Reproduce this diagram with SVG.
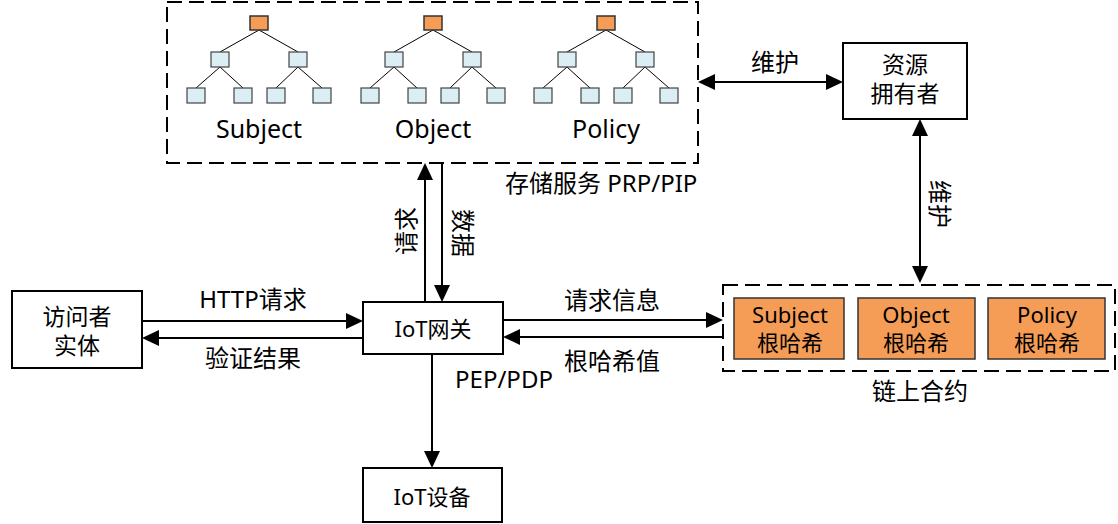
<svg xmlns="http://www.w3.org/2000/svg" xmlns:xlink="http://www.w3.org/1999/xlink" width="1118" height="524" viewBox="0 0 1118 524">
<style>
text{font-family:"Noto Sans","Noto Sans CJK SC",sans-serif;fill:#000;}
.t22{font-size:22px;}
.t23{font-size:23px;}
.t24{font-size:24px;}
.t25{font-size:25px;}
.mid{text-anchor:middle;}
.box{fill:#fff;stroke:#000;stroke-width:2;}
.dash{fill:none;stroke:#000;stroke-width:2;stroke-dasharray:15 7;}
.org{fill:#F59D56;stroke:#333;stroke-width:1.5;}
.lb{fill:#DAEEF3;stroke:#444;stroke-width:1.2;}
.tl{stroke:#000;stroke-width:1;fill:none;}
.ar{stroke:#000;stroke-width:2;fill:none;marker-end:url(#ah);}
.ar2{stroke:#000;stroke-width:2;fill:none;marker-end:url(#ah);marker-start:url(#ah);}
</style>
<defs>
<marker id="ah" markerUnits="userSpaceOnUse" markerWidth="17" markerHeight="16" viewBox="0 0 17 16" refX="7" refY="8" orient="auto-start-reverse">
<path d="M0,0 L17,8 L0,16 z" fill="#000"/>
</marker>
<g id="tree">
<path class="tl" d="M0,30 L-39,52 M0,30 L39,52 M-39,67 L-63,88 M-39,67 L-16,88 M39,67 L17,88 M39,67 L63,88"/>
<rect class="org" x="-9" y="16" width="18" height="14"/>
<rect class="lb" x="-48" y="52" width="18" height="15"/>
<rect class="lb" x="30" y="52" width="18" height="15"/>
<rect class="lb" x="-72" y="88" width="18" height="15"/>
<rect class="lb" x="-25" y="88" width="18" height="15"/>
<rect class="lb" x="8" y="88" width="18" height="15"/>
<rect class="lb" x="54" y="88" width="18" height="15"/>
</g>
</defs>
<rect width="1118" height="524" fill="#fff"/>

<g id="storage">
<rect class="dash" x="167" y="2" width="531" height="161"/>
<use href="#tree" x="259" y="0"/>
<use href="#tree" x="433" y="0"/>
<use href="#tree" x="606" y="0"/>
<text class="t25 mid" x="259" y="138">Subject</text>
<text class="t25 mid" x="433" y="138">Object</text>
<text class="t25 mid" x="606" y="138">Policy</text>
<text class="t24" x="505" y="192">存储服务 PRP/PIP</text>
</g>

<g id="owner">
<rect class="box" x="843" y="43" width="124" height="76"/>
<text class="t23 mid" x="905" y="73">资源<tspan x="905" dy="29">拥有者</tspan></text>
</g>

<g id="accessor">
<rect class="box" x="12" y="291" width="130" height="77"/>
<text class="t23 mid" x="77" y="324.5">访问者<tspan x="77" dy="29">实体</tspan></text>
</g>

<g id="gateway">
<rect class="box" x="363" y="302" width="140" height="52"/>
<text class="t22 mid" x="433" y="337">IoT网关</text>
</g>

<g id="device">
<rect class="box" x="363" y="468" width="139" height="54"/>
<text class="t22 mid" x="432" y="505">IoT设备</text>
</g>

<g id="chain">
<rect class="dash" x="723" y="285" width="392" height="86"/>
<rect class="org" x="734" y="298" width="110" height="61"/>
<rect class="org" x="858" y="298" width="117" height="61"/>
<rect class="org" x="988" y="298" width="117" height="61"/>
<text class="t22 mid" x="790" y="322.5">Subject<tspan x="790" dy="28">根哈希</tspan></text>
<text class="t22 mid" x="916" y="322.5">Object<tspan x="916" dy="28">根哈希</tspan></text>
<text class="t22 mid" x="1047" y="322.5">Policy<tspan x="1047" dy="28">根哈希</tspan></text>
<text class="t24 mid" x="920" y="400">链上合约</text>
</g>

<g id="connectors">
<line class="ar2" x1="708" y1="82" x2="833" y2="82"/>
<text class="t24 mid" x="775" y="71">维护</text>
<line class="ar2" x1="920" y1="129" x2="920" y2="273"/>
<text class="t24 mid" transform="translate(931,204) rotate(90)" x="0" y="0">维护</text>

<line class="ar" x1="425" y1="302" x2="425" y2="173"/>
<text class="t24 mid" transform="translate(415,231) rotate(-90)" x="0" y="0">请求</text>
<line class="ar" x1="442" y1="163" x2="442" y2="292"/>
<text class="t24 mid" transform="translate(454,233) rotate(90)" x="0" y="0">数据</text>

<line class="ar" x1="142" y1="321" x2="353" y2="321"/>
<text class="t24 mid" x="253" y="308">HTTP请求</text>
<line class="ar" x1="363" y1="338" x2="152" y2="338"/>
<text class="t24 mid" x="253" y="367">验证结果</text>

<line class="ar" x1="503" y1="320" x2="713" y2="320"/>
<text class="t24 mid" x="612" y="309">请求信息</text>
<line class="ar" x1="723" y1="337" x2="513" y2="337"/>
<text class="t24 mid" x="612" y="370">根哈希值</text>

<line class="ar" x1="432" y1="354" x2="432" y2="458"/>
<text class="t24 mid" x="504" y="388">PEP/PDP</text>
</g>
</svg>
